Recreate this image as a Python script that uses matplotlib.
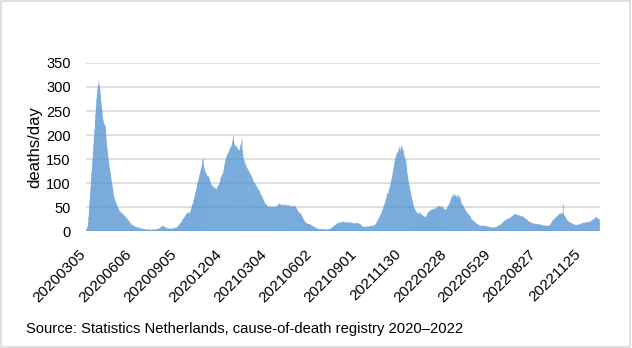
import matplotlib.pyplot as plt
import matplotlib.transforms as mtransforms
import pandas as pd
from matplotlib.patches import Rectangle

# daily deaths, 2020-03-05 .. 2022-12-31 (month by month)
deaths_2020 = (
    [2, 4, 6, 10, 18, 30, 42, 60, 78, 92, 110, 124, 134, 150, 168, 183, 198, 212, 231, 245, 262, 276, 287, 296, 304, 311, 300]
    + [305, 294, 285, 270, 262, 252, 240, 232, 228, 224, 220, 222, 217, 200, 188, 176, 166, 156, 148, 140, 132, 126, 120, 112, 105, 99, 92, 85, 78, 72]
    + [68, 65, 62, 58, 56, 54, 50, 48, 46, 44, 42, 41, 40, 38, 37, 38, 36, 35, 34, 33, 32, 31, 30, 28, 27, 26, 25, 24, 22, 21, 20]
    + [18, 16, 15, 14, 13, 12, 12, 11, 11, 10, 10, 9, 9, 8, 8, 8, 7, 7, 7, 6, 6, 6, 5, 5, 6, 5, 5, 4, 5, 4]
    + [4, 3, 4, 3, 3, 2, 3, 4, 3, 3, 2, 3, 3, 2, 3, 3, 4, 3, 2, 3, 3, 4, 3, 3, 4, 5, 4, 5, 6, 5, 6]
    + [7, 8, 9, 10, 12, 9, 11, 10, 8, 9, 7, 8, 6, 7, 5, 6, 5, 6, 5, 4, 5, 6, 5, 4, 5, 5, 6, 5, 6, 7, 8]
    + [6, 7, 8, 8, 10, 11, 12, 14, 15, 16, 17, 19, 20, 22, 24, 26, 26, 28, 30, 31, 33, 35, 37, 36, 38, 40, 38, 36, 37, 40]
    + [42, 46, 50, 54, 56, 58, 64, 68, 72, 78, 82, 85, 90, 96, 100, 104, 108, 113, 118, 122, 126, 130, 134, 140, 149, 138, 150, 132, 128, 125, 122]
    + [120, 118, 116, 114, 112, 115, 110, 108, 104, 100, 98, 96, 94, 92, 95, 90, 88, 92, 90, 89, 86, 88, 90, 92, 94, 96, 98, 100, 104, 110]
    + [112, 114, 116, 118, 120, 126, 132, 138, 142, 148, 152, 155, 158, 160, 162, 164, 166, 169, 172, 174, 176, 176, 182, 188, 193, 198, 185, 180, 178, 176, 178]
)
deaths_2021 = (
    [176, 174, 172, 170, 168, 170, 169, 172, 180, 178, 186, 193, 170, 160, 151, 148, 145, 142, 140, 137, 134, 132, 130, 128, 126, 124, 122, 120, 118, 116, 114]
    + [112, 110, 106, 104, 102, 100, 98, 97, 96, 94, 92, 90, 88, 86, 85, 84, 82, 78, 76, 74, 72, 70, 68, 65, 62, 60, 58, 56]
    + [55, 56, 54, 52, 52, 51, 50, 52, 52, 50, 49, 51, 50, 51, 52, 50, 48, 51, 50, 51, 52, 51, 50, 53, 54, 55, 56, 58, 55, 54, 56]
    + [55, 54, 52, 56, 55, 53, 54, 52, 55, 56, 54, 53, 52, 54, 55, 53, 50, 52, 54, 51, 50, 52, 51, 50, 52, 53, 51, 50, 52, 51]
    + [48, 46, 44, 42, 40, 40, 38, 37, 37, 36, 35, 32, 30, 28, 26, 24, 22, 20, 19, 18, 17, 16, 16, 15, 15, 14, 14, 15, 14, 13, 12]
    + [12, 11, 10, 10, 9, 9, 8, 7, 7, 6, 6, 5, 5, 5, 5, 4, 4, 4, 4, 4, 3, 4, 4, 3, 4, 3, 4, 3, 3, 4]
    + [3, 3, 3, 4, 3, 4, 4, 5, 5, 6, 6, 7, 8, 9, 10, 11, 12, 12, 13, 14, 15, 15, 16, 16, 17, 17, 18, 18, 17, 18, 19]
    + [18, 19, 18, 20, 19, 18, 19, 17, 18, 19, 18, 17, 19, 18, 18, 17, 18, 19, 17, 18, 16, 17, 16, 17, 16, 15, 17, 16, 17, 16, 17]
    + [17, 16, 16, 15, 15, 14, 14, 13, 12, 11, 10, 9, 9, 9, 9, 8, 9, 9, 9, 10, 9, 9, 10, 9, 10, 10, 11, 10, 10, 11]
    + [11, 12, 12, 11, 12, 13, 14, 15, 17, 19, 21, 23, 25, 27, 29, 31, 33, 35, 37, 40, 43, 46, 49, 52, 55, 58, 62, 66, 70, 74, 78]
    + [80, 78, 84, 88, 92, 96, 100, 106, 110, 116, 122, 128, 134, 141, 146, 150, 154, 158, 162, 164, 162, 166, 170, 172, 176, 168, 172, 179, 170, 174]
    + [170, 169, 162, 158, 151, 150, 148, 140, 130, 120, 114, 106, 100, 96, 90, 84, 78, 74, 70, 65, 60, 56, 51, 48, 46, 44, 42, 40, 39, 38, 37]
)
deaths_2022 = (
    [36, 35, 38, 40, 37, 36, 35, 34, 33, 33, 32, 31, 30, 30, 29, 30, 31, 33, 35, 38, 40, 39, 42, 41, 43, 44, 42, 45, 46, 44, 44]
    + [46, 45, 48, 47, 46, 48, 50, 49, 51, 52, 50, 51, 52, 50, 49, 51, 52, 51, 50, 48, 47, 46, 45, 44, 45, 44, 46, 48]
    + [50, 52, 54, 56, 58, 60, 64, 68, 70, 72, 74, 72, 78, 70, 74, 76, 75, 72, 70, 74, 72, 76, 70, 72, 68, 72, 66, 62, 58, 56, 54]
    + [54, 52, 50, 47, 45, 43, 41, 40, 38, 37, 36, 35, 34, 33, 31, 29, 27, 25, 24, 23, 22, 21, 20, 19, 18, 17, 16, 15, 15, 14]
    + [14, 13, 12, 12, 12, 11, 11, 11, 10, 11, 11, 12, 11, 10, 11, 11, 10, 10, 9, 10, 9, 9, 8, 9, 9, 8, 8, 7, 8, 7, 7]
    + [7, 8, 7, 8, 8, 9, 9, 9, 10, 10, 11, 11, 12, 12, 13, 14, 15, 16, 17, 18, 19, 20, 21, 22, 22, 23, 24, 24, 25, 26]
    + [26, 25, 26, 27, 28, 29, 30, 30, 31, 32, 33, 34, 35, 36, 35, 34, 35, 34, 33, 34, 33, 32, 33, 32, 31, 32, 31, 30, 31, 30, 30]
    + [29, 28, 27, 26, 26, 25, 24, 23, 22, 21, 20, 19, 19, 18, 18, 17, 17, 16, 16, 16, 15, 15, 16, 15, 15, 14, 15, 14, 15, 14, 14]
    + [14, 14, 13, 13, 13, 12, 12, 12, 12, 11, 11, 12, 11, 11, 11, 11, 10, 11, 11, 11, 12, 12, 13, 14, 16, 18, 20, 22, 23, 24]
    + [25, 26, 27, 28, 29, 30, 31, 32, 33, 34, 35, 36, 35, 36, 37, 38, 36, 37, 56, 36, 34, 32, 30, 28, 26, 24, 23, 22, 21, 20, 19]
    + [18, 18, 17, 17, 16, 16, 16, 15, 14, 14, 13, 13, 12, 12, 13, 12, 13, 13, 14, 14, 14, 15, 14, 15, 16, 16, 17, 16, 17, 17]
    + [17, 18, 18, 17, 18, 19, 18, 19, 19, 18, 20, 19, 20, 21, 22, 22, 23, 24, 24, 25, 26, 27, 28, 29, 30, 28, 27, 26, 25, 24, 24]
)

tick_labels = ["20200305", "20200606", "20200905", "20201204", "20210304", "20210602",
               "20210901", "20211130", "20220228", "20220529", "20220827", "20221125"]

deaths = deaths_2020 + deaths_2021 + deaths_2022
dates = pd.date_range("2020-03-05", periods=len(deaths), freq="D").strftime("%Y%m%d").tolist()
pos = list(range(len(deaths)))
tick_pos = [dates.index(t) for t in tick_labels]

plt.rcParams["font.family"] = ["Liberation Sans", "DejaVu Sans"]

fig = plt.figure(figsize=(6.32, 3.48), dpi=100)
ax = fig.add_axes([0.136, 0.336, 0.813, 0.483])

# snap off, otherwise sub-pixel bars drop out in runs
ax.bar(pos, deaths, width=1.0, color="#4a8fd0", linewidth=0, zorder=2, snap=False)

ax.set_ylim(0, 350)
ax.set_yticks(range(0, 351, 50))
ax.set_xlim(-0.5, len(deaths) - 0.5)
ax.set_xticks(tick_pos)
ax.set_xticklabels(tick_labels, rotation=45, ha="right", va="center", rotation_mode="anchor")
ax.tick_params(axis="both", length=0, colors="#000000")
ax.tick_params(axis="x", pad=15, labelsize=11)
ax.tick_params(axis="y", pad=11, labelsize=10.5)
# nudge the slanted labels a bit to the left, like the original
shift = mtransforms.ScaledTranslation(-0.03, 0, fig.dpi_scale_trans)
for lab in ax.get_xticklabels():
    lab.set_transform(lab.get_transform() + shift)
ax.grid(axis="y", color="#d9d9d9", linewidth=1.2, zorder=0)
ax.set_axisbelow(True)
for s in ax.spines.values():
    s.set_visible(False)
ax.set_ylabel("deaths/day", fontsize=12, labelpad=3)

fig.text(0.041, 0.055, "Source: Statistics Netherlands, cause-of-death registry 2020\u20132022",
         fontsize=10.6, ha="left", va="center")

fig.patches.append(Rectangle((0.002, 0.003), 0.995, 0.993, transform=fig.transFigure,
                             fill=False, edgecolor="#d9d9d9", linewidth=1.2))

fig.savefig("out.png", dpi=100)
